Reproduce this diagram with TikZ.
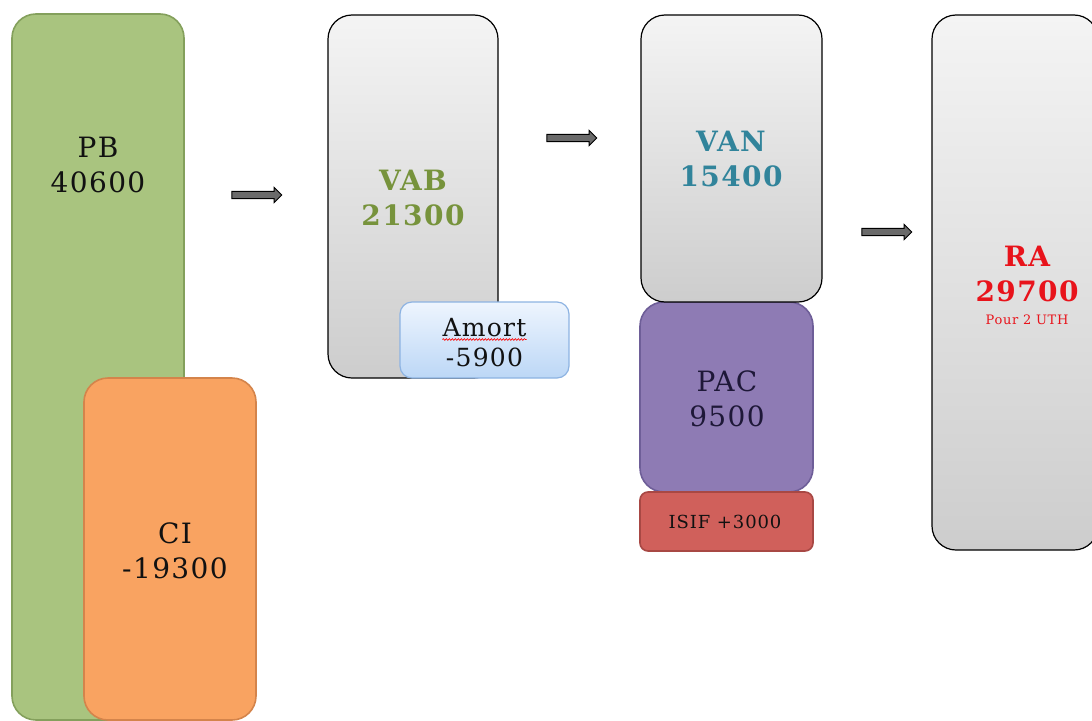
\documentclass[tikz,border=0pt]{standalone}
\usepackage{fontspec}
\setmainfont{DejaVu Serif}[LetterSpace=5]
\usetikzlibrary{shapes.arrows,decorations.pathmorphing}
\definecolor{pbfill}{HTML}{A9C47F}
\definecolor{pbdraw}{HTML}{84A05C}
\definecolor{cifill}{HTML}{F9A361}
\definecolor{cidraw}{HTML}{D4844B}
\definecolor{graytop}{HTML}{F4F4F4}
\definecolor{graybot}{HTML}{CDCDCD}
\definecolor{bluetop}{HTML}{EEF5FE}
\definecolor{bluebot}{HTML}{BCD7F6}
\definecolor{bluedraw}{HTML}{8DB3E2}
\definecolor{pacfill}{HTML}{8E7BB4}
\definecolor{pacdraw}{HTML}{6E5E98}
\definecolor{isiffill}{HTML}{D0605B}
\definecolor{isifdraw}{HTML}{A84844}
\definecolor{vabtxt}{HTML}{77933C}
\definecolor{vantxt}{HTML}{31849B}
\definecolor{ratxt}{HTML}{E8131B}
\definecolor{darktxt}{HTML}{111111}
\definecolor{pactxt}{HTML}{1E1838}
\definecolor{arrowfill}{HTML}{6A6A6A}
\begin{document}
\begin{tikzpicture}[x=1pt,y=-1pt,
  box/.style={rectangle, rounded corners=24pt, line width=1.6pt, inner sep=0pt},
  graybox/.style={box, draw=black, line width=1.2pt, top color=graytop, bottom color=graybot},
  lbl/.style={align=center, inner sep=0pt, font=\fontsize{28}{35}\selectfont, text=darktxt},
  blbl/.style={lbl, font=\fontsize{28}{35}\selectfont\bfseries},
  blockarrow/.style={single arrow, draw=black, fill=arrowfill, line width=0.9pt,
    minimum height=50pt, minimum width=15pt, inner sep=3.2pt,
    single arrow head extend=4pt, single arrow head indent=0pt},
  squig/.style={draw=red, line width=0.6pt, decorate,
    decoration={snake, amplitude=0.9pt, segment length=3pt}}]
\useasboundingbox (0,0) rectangle (1092,720);
\clip (0,0) rectangle (1092,720);
% PB and CI
\node[box, draw=pbdraw, fill=pbfill, minimum width=172pt, minimum height=706pt] (pb) at (98,367) {};
\node[box, draw=cidraw, fill=cifill, minimum width=172pt, minimum height=342pt] (ci) at (170,549) {};
\node[lbl] (pbt) at (98,165) {PB\\40600};
\node[lbl] (cit) at (175,551) {CI\\-19300};
% arrows
\node[blockarrow] (a1) at (255,195) {};
\node[blockarrow] (a2) at (570,138) {};
\node[blockarrow] (a3) at (885,232) {};
% VAB
\node[graybox, minimum width=170pt, minimum height=363pt] (vab) at (413,196.5) {};
\node[blbl, text=vabtxt] (vabt) at (413,198) {VAB\\21300};
% Amort
\node[box, draw=bluedraw, line width=1.2pt, rounded corners=12pt, top color=bluetop, bottom color=bluebot,
  minimum width=169pt, minimum height=76pt] (am) at (484.5,340) {};
\node[lbl, font=\fontsize{25}{30}\selectfont, text=darktxt] (amt) at (484.5,328) {Amort};
\node[lbl, font=\fontsize{25}{30}\selectfont, text=darktxt] (amn) at (484.5,357) {-5900};
\draw[squig] ([yshift=-2pt]amt.south west) -- ([yshift=-2pt]amt.south east);
% VAN, PAC, ISIF
\node[box, draw=pacdraw, fill=pacfill, minimum width=173pt, minimum height=190pt] (pac) at (726.5,397) {};
\node[box, draw=isifdraw, fill=isiffill, rounded corners=8pt, minimum width=173pt, minimum height=59pt] (isif) at (726.5,521.5) {};
\node[graybox, minimum width=181pt, minimum height=287pt] (van) at (731.5,158.5) {};
\node[blbl, text=vantxt] (vant) at (731,159) {VAN\\15400};
\node[lbl, text=pactxt] (pact) at (727,399) {PAC\\9500};
\node[lbl, font=\fontsize{18}{21}\selectfont, text=darktxt] (isift) at (725,522) {ISIF +3000};
% RA
\node[graybox, minimum width=166pt, minimum height=535pt] (ra) at (1015,282.5) {};
\node[blbl, text=ratxt] (rat) at (1027,274) {RA\\29700};
\node[lbl, font=\fontsize{13}{15}\selectfont, text=ratxt] (rap) at (1027,320) {Pour 2 UTH};
\end{tikzpicture}
\end{document}
